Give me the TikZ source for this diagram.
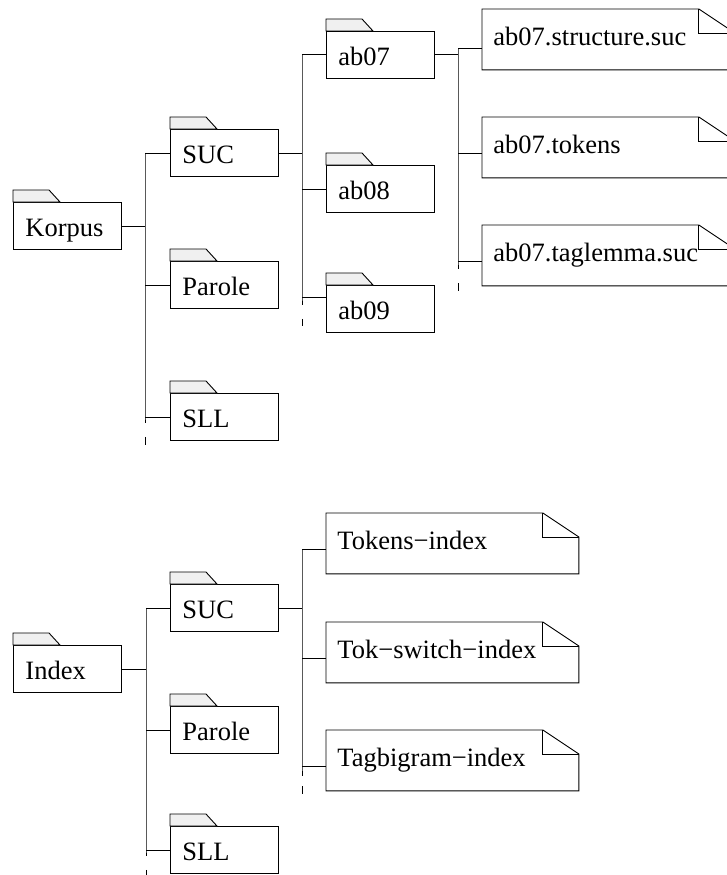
\documentclass[tikz,border=0pt]{standalone}
\usepackage{fontspec}
\setmainfont{Liberation Serif}
\usepackage{tikz}
\usetikzlibrary{calc}
\definecolor{tabgray}{RGB}{240,240,240}
\tikzset{
  folder/.style={draw,anchor=north west,minimum width=108pt,minimum height=47pt,text width=84pt,inner xsep=12pt,inner ysep=0pt,align=left,text height=22pt,text depth=0pt},
  note/.style={anchor=north west,minimum width=252pt,minimum height=60pt,text width=230pt,inner xsep=11pt,inner ysep=0pt,align=left,text height=16pt,text depth=4pt},
  foldertab/.style={draw,fill=tabgray},
}
\newcommand{\foldertab}[1]{\draw[foldertab] (#1.north west) -- ++(0,-12) -- ++(36,0) -- ++(11,12) -- cycle;}
\newcommand{\noteline}[1]{\draw (#1.south west) -- (#1.north west) -- ([xshift=-36pt]#1.north east) -- ([yshift=-24pt]#1.north east) -- (#1.south east) -- cycle;
  \draw ([xshift=-36pt]#1.north east) |- ([yshift=-24pt]#1.north east);}

\begin{document}
\begin{tikzpicture}[x=1pt,y=-1pt,line width=0.9pt,font=\fontsize{26.5}{31}\selectfont]
\useasboundingbox (0,0) rectangle (726,875);
% Korpus
\node[folder] (korpus) at (13,202) {Korpus};
\node[folder] (suc1) at (170,129) {SUC};
\node[folder] (parole1) at (170,261) {Parole};
\node[folder] (sll1) at (170,393) {SLL};
\node[folder] (ab07) at (326,31) {ab07};
\node[folder] (ab08) at (326,165) {ab08};
\node[folder] (ab09) at (326,285) {ab09};
\node[note] (structure) at (482,9) {ab07.structure.suc};
\node[note] (tokens) at (482,117) {ab07.tokens};
\node[note] (taglemma) at (482,225) {ab07.taglemma.suc};
\foreach \n in {korpus,suc1,parole1,sll1,ab07,ab08,ab09} {\foldertab{\n}}
\foreach \n in {structure,tokens,taglemma} {\noteline{\n}}
\coordinate (kbus) at (145,0);
\coordinate (sucbus) at (302,0);
\coordinate (abbus) at (458,0);
\coordinate (ab09in) at ([yshift=12pt]ab09.west);
\draw (korpus.east) -- (korpus.east -| kbus);
\draw (kbus |- suc1.west) -- (kbus |- sll1.west) -- ++(0,6) ++(0,14) -- ++(0,8);
\foreach \n in {suc1,parole1,sll1} {\draw (kbus |- \n.west) -- (\n.west);}
\draw (suc1.east) -- (suc1.east -| sucbus);
\draw (sucbus |- ab07.west) -- (sucbus |- ab09in) -- ++(0,8) ++(0,14) -- ++(0,7);
\foreach \n in {ab07.west,ab08.west,ab09in} {\draw (sucbus |- \n) -- (\n);}
\draw (ab07.east) -- (ab07.east -| abbus);
\draw ([yshift=-9pt]abbus |- structure.west) -- ([yshift=-6pt]abbus |- taglemma.west) -- ++(0,8) ++(0,14) -- ++(0,8);
\draw ([yshift=-9pt]structure.west -| abbus) -- ([yshift=-9pt]structure.west);
\foreach \n in {tokens,taglemma} {\draw ([yshift=-6pt]\n.west -| abbus) -- ([yshift=-6pt]\n.west);}
% Index
\node[folder] (index) at (13,645) {Index};
\node[folder] (suc2) at (170,584) {SUC};
\node[folder] (parole2) at (170,706) {Parole};
\node[folder] (sll2) at (170,826) {SLL};
\node[note] (tokidx) at (326,513) {Tokens−index};
\node[note] (tokswitch) at (326,622) {Tok−switch−index};
\node[note] (tagbigram) at (326,730) {Tagbigram−index};
\foreach \n in {index,suc2,parole2,sll2} {\foldertab{\n}}
\foreach \n in {tokidx,tokswitch,tagbigram} {\noteline{\n}}
\coordinate (ibus) at (146,0);
\coordinate (suc2bus) at (302,0);
\draw (index.east) -- (index.east -| ibus);
\draw (ibus |- suc2.west) -- (ibus |- sll2.west) -- ++(0,6) ++(0,14) -- ++(0,8);
\foreach \n in {suc2,parole2,sll2} {\draw (ibus |- \n.west) -- (\n.west);}
\draw (suc2.east) -- (suc2.east -| suc2bus);
\draw ([yshift=-6pt]suc2bus |- tokidx.west) -- ([yshift=-6pt]suc2bus |- tagbigram.west) -- ++(0,10) ++(0,10) -- ++(0,8);
\foreach \n in {tokidx,tokswitch,tagbigram} {\draw ([yshift=-6pt]\n.west -| suc2bus) -- ([yshift=-6pt]\n.west);}
\end{tikzpicture}
\end{document}
